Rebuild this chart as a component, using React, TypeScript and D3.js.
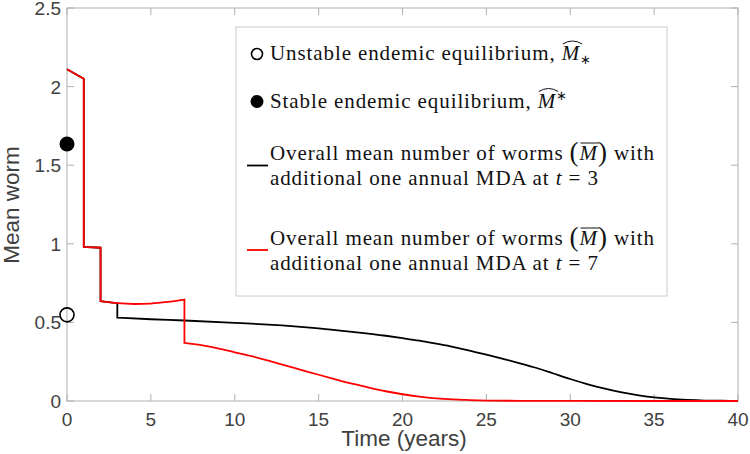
import React, { useLayoutEffect, useRef, useState } from "react";
import * as d3 from "d3";

// ---- data ----
const redT = [0, 1, 1, 2, 2, 3, 4, 5, 6, 7, 7, 8, 9, 10, 11, 12, 13, 14, 15, 16, 17, 18, 19, 20, 21, 22, 23, 24, 25, 27, 30, 40];
const redM = [2.11, 2.05, 0.98, 0.975, 0.635, 0.622, 0.617, 0.62, 0.63, 0.645, 0.37, 0.355, 0.335, 0.31, 0.285, 0.257, 0.227, 0.197, 0.167, 0.138, 0.11, 0.085, 0.062, 0.043, 0.028, 0.017, 0.01, 0.006, 0.003, 0.001, 0.0003, 0];
const blackT = [0, 1, 1, 2, 2, 3, 3, 5, 7, 10, 12, 15, 17, 19, 20, 21, 22, 23, 24, 25, 26, 27, 28, 29, 30, 31, 32, 33, 34, 35, 36, 37, 38, 39, 40];
const blackM = [2.11, 2.05, 0.98, 0.975, 0.635, 0.622, 0.53, 0.52, 0.512, 0.497, 0.486, 0.462, 0.44, 0.415, 0.4, 0.384, 0.365, 0.345, 0.32, 0.295, 0.268, 0.24, 0.21, 0.175, 0.14, 0.108, 0.08, 0.056, 0.037, 0.023, 0.013, 0.007, 0.003, 0.0015, 0.001];
const stableEq = { t: 0, m: 1.635 };
const unstableEq = { t: 0, m: 0.548 };
const xTicks = [0, 5, 10, 15, 20, 25, 30, 35, 40];
const yTicks = [0, 0.5, 1, 1.5, 2, 2.5];
const yTickLabels = ["0", "0.5", "1", "1.5", "2", "2.5"];

const W = 750, H = 454;
const L = 67, R = 738, T = 8, B = 401;
const x = d3.scaleLinear().domain([0, 40]).range([L, R]);
const y = d3.scaleLinear().domain([0, 2.5]).range([B, T]);

function stepPath(ts: number[], ms: number[]) {
  const pieces: [number, number][][] = [];
  let cur: [number, number][] = [];
  ts.forEach((t, i) => {
    if (i > 0 && t === ts[i - 1]) {
      pieces.push(cur);
      cur = [];
    }
    cur.push([t, ms[i]]);
  });
  pieces.push(cur);
  const line = d3.line<[number, number]>().x((d) => x(d[0])).y((d) => y(d[1])).curve(d3.curveMonotoneX);
  return pieces
    .map((p, i) => {
      const s = p.length > 1 ? (line(p) as string) : `M${x(p[0][0])},${y(p[0][1])}`;
      return i === 0 ? s : "L" + s.slice(1);
    })
    .join("");
}

const AX = "#b0b0b0";
const TXT = "#404040";
const SANS = "'Liberation Sans', Arial, Helvetica, sans-serif";
const SERIF = "'Liberation Serif', 'Times New Roman', serif";
const LFS = 21;
const LS = 0.9;

export default function App() {
  const t1 = useRef<SVGTextElement>(null);
  const t2 = useRef<SVGTextElement>(null);
  const t3 = useRef<SVGTextElement>(null);
  const t4 = useRef<SVGTextElement>(null);
  const [marks, setMarks] = useState<{ x0: number; x1: number }[]>([]);

  useLayoutEffect(() => {
    const res: { x0: number; x1: number }[] = [];
    [t1, t2, t3, t4].forEach((r) => {
      const el = r.current;
      if (!el) { res.push({ x0: 0, x1: 0 }); return; }
      const s = el.textContent || "";
      const idx = s.startsWith("Overall") ? s.indexOf("M", 10) : s.indexOf("M", 1);
      const ext = el.getExtentOfChar(idx);
      res.push({ x0: ext.x, x1: ext.x + ext.width });
    });
    setMarks(res);
  }, []);

  const tx = 270;
  const hat = (m: { x0: number; x1: number } | undefined, yb: number) => {
    if (!m) return null;
    const a = m.x0 + 1, b = m.x1 + 2;
    const mid = (a + b) / 2;
    return <path d={`M${a},${yb - 16} Q${mid},${yb - 22} ${b},${yb - 16}`} fill="none" stroke="#111" strokeWidth={1} />;
  };
  const bar = (m: { x0: number; x1: number } | undefined, yb: number) => {
    if (!m) return null;
    return <line x1={m.x0 + 1} x2={m.x1 + 1} y1={yb - 17} y2={yb - 17} stroke="#111" strokeWidth={1} />;
  };

  return (
    <svg width={W} height={H} style={{ position: "absolute", left: 0, top: 0, background: "#fff" }}>
      <rect x={0} y={0} width={W} height={H} fill="#fff" />
      {/* axes box */}
      <rect x={L} y={T} width={R - L} height={B - T} fill="none" stroke={AX} strokeWidth={1} />
      {xTicks.map((t) => (
        <g key={"xt" + t}>
          <line x1={x(t)} x2={x(t)} y1={B} y2={B - 7} stroke={AX} />
          <line x1={x(t)} x2={x(t)} y1={T} y2={T + 7} stroke={AX} />
          <text x={x(t)} y={426} textAnchor="middle" fontFamily={SANS} fontSize={19} fill={TXT}>{t}</text>
        </g>
      ))}
      {yTicks.map((v, i) => (
        <g key={"yt" + v}>
          <line x1={L} x2={L + 7} y1={y(v)} y2={y(v)} stroke={AX} />
          <line x1={R} x2={R - 7} y1={y(v)} y2={y(v)} stroke={AX} />
          <text x={61} y={y(v) + 7} textAnchor="end" fontFamily={SANS} fontSize={19} fill={TXT}>{yTickLabels[i]}</text>
        </g>
      ))}
      <text x={404} y={446} textAnchor="middle" fontFamily={SANS} fontSize={22.5} fill={TXT}>Time (years)</text>
      <text transform="translate(19,205) rotate(-90)" textAnchor="middle" fontFamily={SANS} fontSize={22.5} fill={TXT}>Mean worm</text>

      {/* lines */}
      <path d={stepPath(blackT, blackM)} fill="none" stroke="#000" strokeWidth={1.8} />
      <path d={stepPath(redT, redM)} fill="none" stroke="#ff0000" strokeWidth={1.8} />
      <circle cx={x(stableEq.t)} cy={y(stableEq.m)} r={7.5} fill="#000" />
      <circle cx={x(unstableEq.t)} cy={y(unstableEq.m)} r={7} fill="none" stroke="#000" strokeWidth={1.6} />

      {/* legend */}
      <rect x={236} y={27} width={431} height={269} fill="#fff" stroke="#cccccc" strokeWidth={1} />
      <circle cx={257} cy={54} r={5.5} fill="none" stroke="#000" strokeWidth={1.6} />
      <circle cx={257} cy={101.5} r={6.5} fill="#000" />
      <line x1={247} x2={268} y1={165.5} y2={165.5} stroke="#000" strokeWidth={1.8} />
      <line x1={247} x2={268} y1={250} y2={250} stroke="#ff0000" strokeWidth={1.8} />

      <text ref={t1} x={tx} y={60} fontFamily={SERIF} fontSize={LFS} letterSpacing={LS} fill="#111">
        Unstable endemic equilibrium,{" "}
        <tspan fontStyle="italic">M</tspan>
        <tspan fontSize={13} dy={4}>∗</tspan>
      </text>
      {hat(marks[0], 60)}
      <text ref={t2} x={tx} y={107.5} fontFamily={SERIF} fontSize={LFS} letterSpacing={LS} fill="#111">
        Stable endemic equilibrium,{" "}
        <tspan fontStyle="italic">M</tspan>
        <tspan fontSize={13} dy={-8}>∗</tspan>
      </text>
      {hat(marks[1], 107.5)}
      <text ref={t3} x={tx} y={160} fontFamily={SERIF} fontSize={LFS} letterSpacing={LS} fill="#111">
        Overall mean number of worms{" "}
        <tspan fontSize={27} dy={1}>(</tspan>
        <tspan fontStyle="italic" dy={-1}>M</tspan>
        <tspan fontSize={27} dy={1}>)</tspan>
        <tspan dy={-1}> with</tspan>
      </text>
      {bar(marks[2], 160)}
      <text x={tx} y={185} fontFamily={SERIF} fontSize={LFS} letterSpacing={LS} fill="#111">
        additional one annual MDA at <tspan fontStyle="italic">t</tspan> = 3
      </text>
      <text ref={t4} x={tx} y={245} fontFamily={SERIF} fontSize={LFS} letterSpacing={LS} fill="#111">
        Overall mean number of worms{" "}
        <tspan fontSize={27} dy={1}>(</tspan>
        <tspan fontStyle="italic" dy={-1}>M</tspan>
        <tspan fontSize={27} dy={1}>)</tspan>
        <tspan dy={-1}> with</tspan>
      </text>
      {bar(marks[3], 245)}
      <text x={tx} y={269.5} fontFamily={SERIF} fontSize={LFS} letterSpacing={LS} fill="#111">
        additional one annual MDA at <tspan fontStyle="italic">t</tspan> = 7
      </text>
    </svg>
  );
}
